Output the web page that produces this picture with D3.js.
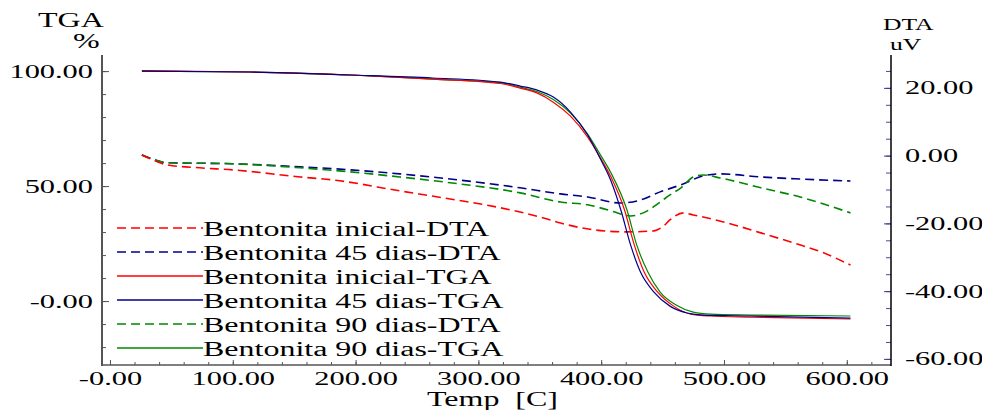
<!DOCTYPE html>
<html>
<head>
<meta charset="utf-8">
<script src="https://cdn.jsdelivr.net/npm/d3@7"></script>
<style>
  body { margin: 0; background: #fff; }
  svg text { font-family: "Liberation Serif", "Times New Roman", serif; fill: #000; }
</style>
</head>
<body>
<svg id="chart" width="982" height="410"></svg>
<script>
// temperature [C] / value pairs
var inicialTga = [[26, 100.2], [114, 99.6], [196, 98.3], [263, 96.5], [318, 94.6], [334, 92.6], [348, 90.4],
  [361, 86.5], [375, 80.4], [389, 71.3], [399, 62.6], [408, 53.9], [419, 39.6], [427, 24.3], [435, 12.6],
  [446, 3.9], [459, -2.2], [473, -5.7], [489, -6.5], [522, -7.0], [603, -7.8]]
var dias45Tga = [[26, 100.0], [114, 99.6], [196, 98.3], [263, 97.0], [318, 95.2], [334, 93.5], [348, 91.7],
  [361, 88.7], [375, 82.2], [389, 72.2], [399, 62.2], [408, 52.2], [416, 39.6], [424, 24.3], [432, 12.6],
  [443, 3.9], [456, -2.2], [470, -5.2], [483, -6.1], [522, -6.5], [603, -7.4]]
var dias90Tga = [[26, 100.0], [114, 99.6], [196, 98.3], [263, 96.5], [318, 95.0], [334, 93.0], [348, 91.0],
  [361, 87.6], [375, 81.7], [389, 72.6], [399, 63.9], [408, 55.7], [421, 39.6], [429, 24.3], [438, 12.6],
  [448, 3.9], [461, -1.7], [475, -4.8], [489, -5.7], [522, -6.1], [603, -6.5]]

var inicialDta = [[26, 0.2], [37, -1.6], [46, -2.7], [73, -3.6], [100, -4.2], [155, -6.3], [182, -7.2],
  [236, -10.4], [277, -12.8], [318, -15.4], [356, -18.7], [367, -19.9], [394, -21.9], [421, -22.5],
  [443, -22.2], [451, -20.7], [456, -19.0], [467, -16.9], [475, -17.5], [503, -19.9], [530, -22.8],
  [557, -25.8], [579, -28.4], [603, -32.3]]
var dias45Dta = [[26, 0.2], [37, -1.3], [46, -2.1], [100, -2.4], [155, -3.3], [196, -4.2], [236, -5.4],
  [277, -6.9], [334, -9.5], [367, -11.3], [389, -12.2], [416, -14.0], [432, -13.1], [448, -10.7],
  [465, -8.6], [483, -6.0], [497, -5.4], [530, -6.3], [562, -6.9], [603, -7.5]]
var dias90Dta = [[26, 0.2], [37, -1.3], [46, -2.1], [100, -2.4], [155, -3.6], [196, -4.8], [236, -6.3],
  [277, -8.0], [334, -11.0], [367, -13.7], [389, -14.5], [408, -16.3], [424, -17.8], [436, -16.6],
  [448, -13.7], [456, -11.6], [465, -9.5], [475, -6.3], [483, -5.7], [497, -6.6], [530, -9.5],
  [562, -12.2], [603, -16.9]]

var seriesNames = ['Bentonita inicial-DTA', 'Bentonita 45 dias-DTA', 'Bentonita inicial-TGA',
  'Bentonita 45 dias-TGA', 'Bentonita 90 dias-DTA', 'Bentonita 90 dias-TGA']

var tempTicks = [0, 100, 200, 300, 400, 500, 600]
var tempTickLabels = ['-0.00', '100.00', '200.00', '300.00', '400.00', '500.00', '600.00']
var tgaTicks = [100, 50, 0]
var tgaTickLabels = ['100.00', '50.00', '-0.00']
var dtaTicks = [20, 0, -20, -40, -60]
var dtaTickLabels = ['20.00', '0.00', '-20.00', '-40.00', '-60.00']

var red = '#ff0000'
var blue = '#000088'
var green = '#008800'

var svg = d3.select('#chart')
var pLeft = 102, pRight = 891, pTop = 55, pBottom = 365
var sx = 1.6 // the original font is drawn wide

var x = d3.scaleLinear().domain([-6.5, 636]).range([pLeft, pRight])
var yT = d3.scaleLinear().domain([-27.8, 107]).range([pBottom, pTop])
var yD = d3.scaleLinear().domain([-61.8, 29.7]).range([pBottom, pTop])

function widen (sel) {
  sel.each(function () {
    var t = d3.select(this)
    var tx = +t.attr('x') || 0
    var ty = +t.attr('y') || 0
    t.attr('x', null).attr('y', null)
      .attr('transform', 'translate(' + tx + ',' + ty + ') scale(' + sx + ',1)')
  })
}

function label (txt, px, py, size) {
  return svg.append('text')
    .attr('transform', 'translate(' + px + ',' + py + ') scale(' + sx + ',1)')
    .attr('font-size', size)
    .text(txt)
}

function styleAxis (color) {
  return function (g) {
    g.select('.domain').remove()
    g.selectAll('line').attr('stroke', color)
    g.selectAll('text').attr('font-size', 19)
  }
}

// bottom axis
svg.append('g').attr('transform', 'translate(0,' + pBottom + ')')
  .call(d3.axisBottom(x).tickValues(d3.range(0, 621, 20)).tickSizeInner(-3).tickSizeOuter(0).tickFormat(''))
  .call(styleAxis('#555'))
svg.append('g').attr('class', 'xmaj').attr('transform', 'translate(0,' + pBottom + ')')
  .call(d3.axisBottom(x).tickValues(tempTicks).tickSizeInner(-5).tickSizeOuter(0).tickPadding(7)
    .tickFormat(function (d, i) { return tempTickLabels[i] }))
  .call(styleAxis('#555'))
widen(svg.selectAll('.xmaj text'))

// left axis (TGA)
svg.append('g').attr('transform', 'translate(' + pLeft + ',0)')
  .call(d3.axisLeft(yT).tickValues(d3.range(-20, 101, 10)).tickSizeInner(-4).tickSizeOuter(0).tickFormat(''))
  .call(styleAxis('#555'))
svg.append('g').attr('class', 'tmaj').attr('transform', 'translate(' + pLeft + ',0)')
  .call(d3.axisLeft(yT).tickValues(tgaTicks).tickSizeInner(-7).tickSizeOuter(0).tickPadding(9)
    .tickFormat(function (d, i) { return tgaTickLabels[i] }))
  .call(styleAxis('#555'))
widen(svg.selectAll('.tmaj text'))

// right axis (DTA)
svg.append('g').attr('transform', 'translate(' + pRight + ',0)')
  .call(d3.axisRight(yD).tickValues(d3.range(-60, 26, 5)).tickSizeInner(-5).tickSizeOuter(0).tickFormat(''))
  .call(styleAxis('#4a4a9a'))
svg.append('g').attr('class', 'dmaj').attr('transform', 'translate(' + pRight + ',0)')
  .call(d3.axisRight(yD).tickValues(dtaTicks).tickSizeInner(-7).tickSizeOuter(0).tickPadding(14)
    .tickFormat(function (d, i) { return dtaTickLabels[i] }))
  .call(styleAxis('#3a3a9a'))
widen(svg.selectAll('.dmaj text'))

// axis lines
svg.append('line').attr('x1', pLeft).attr('x2', pLeft).attr('y1', pTop).attr('y2', pBottom + 1)
  .attr('stroke', '#555').attr('stroke-width', 2)
svg.append('line').attr('x1', pLeft).attr('x2', pRight).attr('y1', pBottom).attr('y2', pBottom)
  .attr('stroke', '#555').attr('stroke-width', 1.5)
svg.append('line').attr('x1', pRight).attr('x2', pRight).attr('y1', pTop).attr('y2', pBottom + 1)
  .attr('stroke', '#000').attr('stroke-width', 1.5)

// titles
label('TGA', 38, 27, 20)
label('%', 73, 48, 20)
label('DTA', 883, 30, 16)
label('uV', 890, 50, 16)
label('Temp  [C]', 427, 406, 20).style('white-space', 'pre')

// curves
var lineT = d3.line().x(function (d) { return x(d[0]) }).y(function (d) { return yT(d[1]) }).curve(d3.curveMonotoneX)
var lineD = d3.line().x(function (d) { return x(d[0]) }).y(function (d) { return yD(d[1]) }).curve(d3.curveMonotoneX)

var curves = [
  { data: dias45Dta, gen: lineD, color: blue, dash: '9,5' },
  { data: dias90Dta, gen: lineD, color: green, dash: '9,5' },
  { data: inicialDta, gen: lineD, color: red, dash: '9,5' },
  { data: dias90Tga, gen: lineT, color: green, dash: null },
  { data: inicialTga, gen: lineT, color: red, dash: null },
  { data: dias45Tga, gen: lineT, color: blue, dash: null }
]
svg.selectAll('path.curve').data(curves).enter().append('path')
  .attr('class', 'curve')
  .attr('fill', 'none')
  .attr('stroke', function (d) { return d.color })
  .attr('stroke-width', function (d) { return d.dash ? 1.6 : 1.2 })
  .attr('stroke-dasharray', function (d) { return d.dash })
  .attr('d', function (d) { return d.gen(d.data) })

// legend
var legendItems = [
  { color: red, dash: '9,5' }, { color: blue, dash: '9,5' }, { color: red, dash: null },
  { color: blue, dash: null }, { color: green, dash: '9,5' }, { color: green, dash: null }
]
var lg = svg.selectAll('g.leg').data(legendItems).enter().append('g')
  .attr('class', 'leg')
  .attr('transform', function (d, i) { return 'translate(117,' + (228 + i * 24) + ')' })
lg.append('line').attr('x1', 0).attr('x2', 86).attr('y1', 0).attr('y2', 0)
  .attr('stroke', function (d) { return d.color })
  .attr('stroke-width', 1.3)
  .attr('stroke-dasharray', function (d) { return d.dash })
lg.append('text')
  .attr('transform', 'translate(86,8) scale(' + sx + ',1)')
  .attr('font-size', 20)
  .text(function (d, i) { return seriesNames[i] })
</script>
</body>
</html>
